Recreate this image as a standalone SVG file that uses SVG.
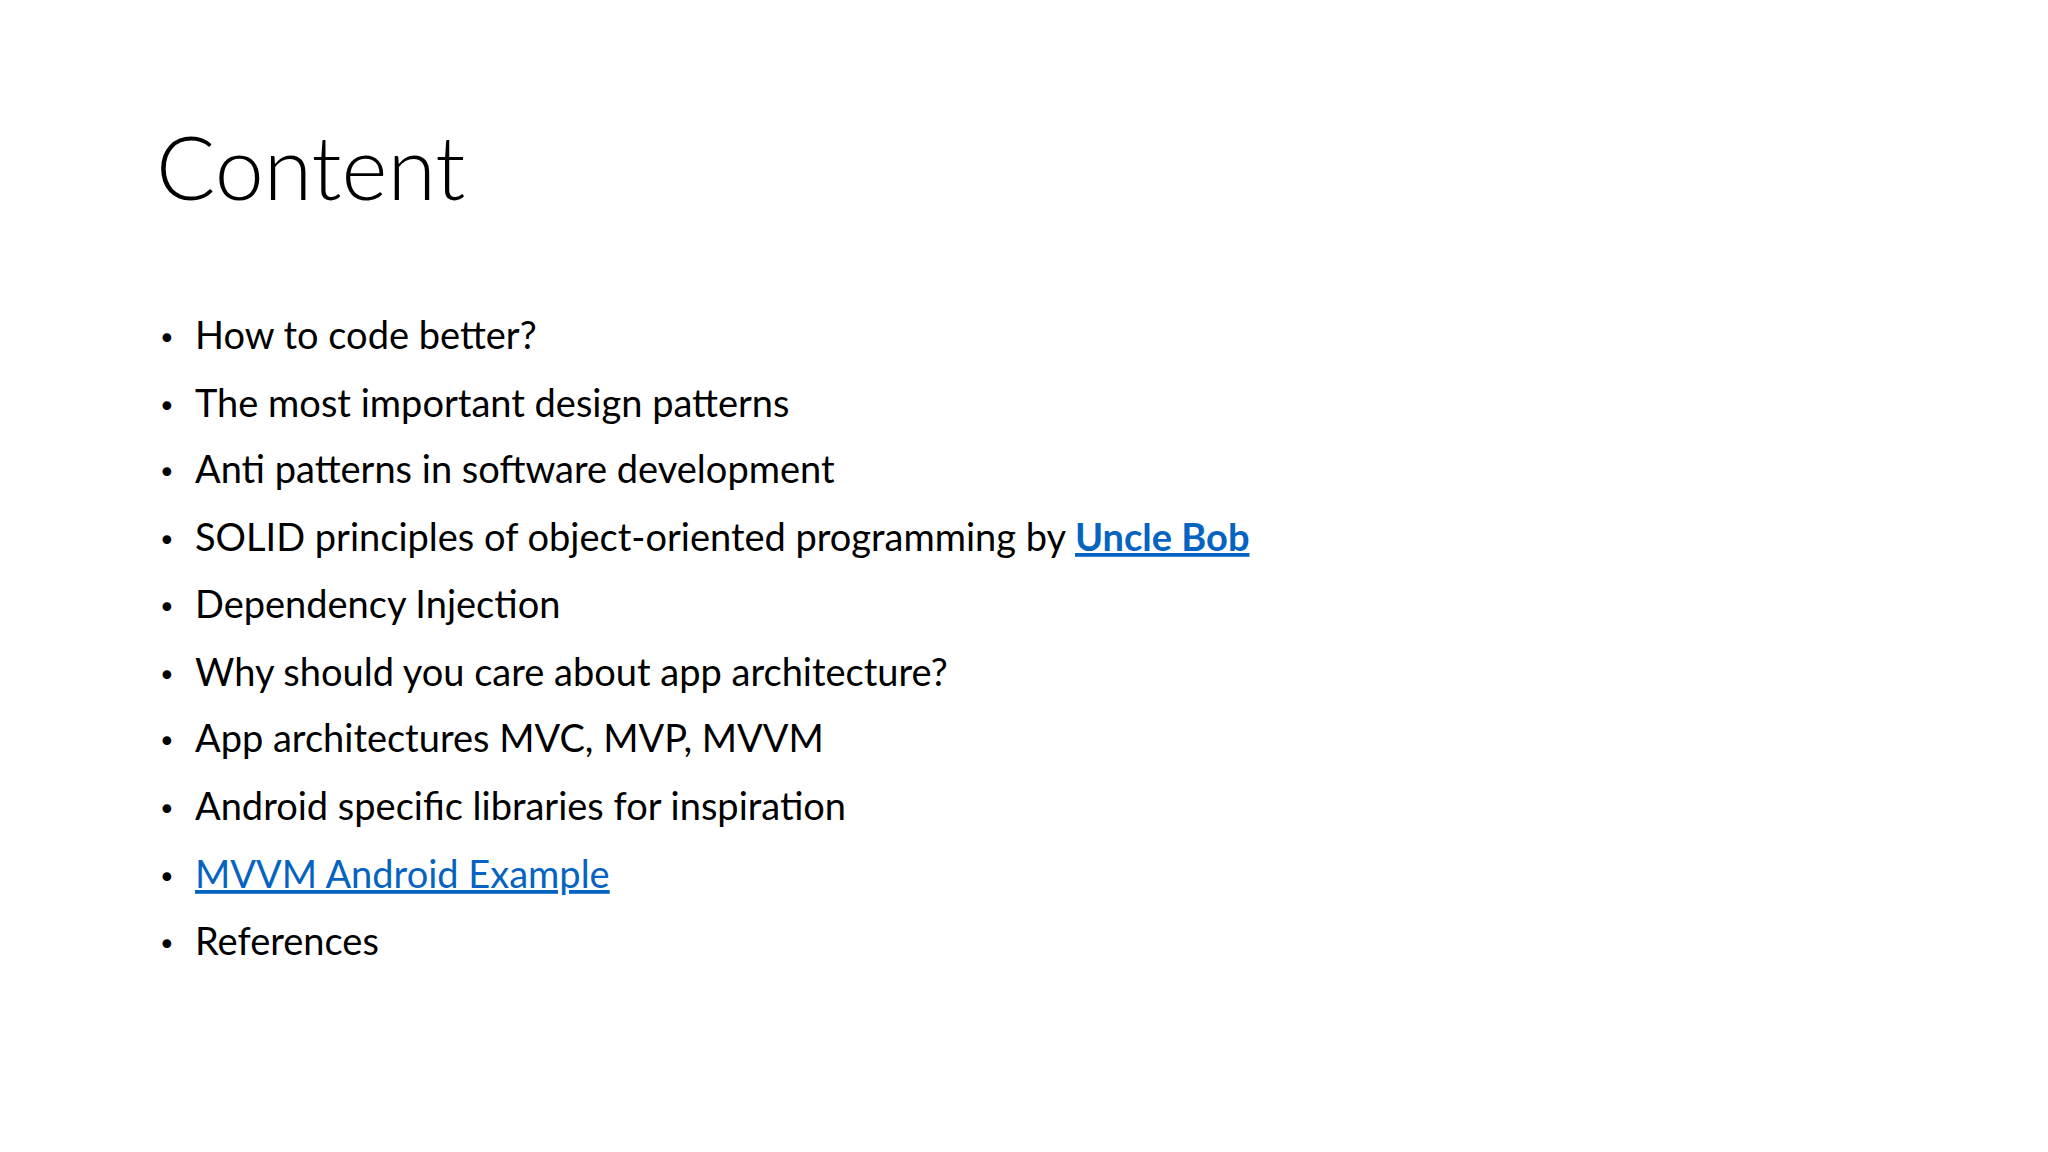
<svg xmlns="http://www.w3.org/2000/svg" width="2048" height="1152" viewBox="0 0 2048 1152">
<style>
.t{font-family:Lato,"Open Sans",sans-serif;font-size:38px;fill:#000}
.b{font-family:"DejaVu Sans",sans-serif;font-size:30px;fill:#000}
.l{fill:#0563C1;text-decoration:underline}
</style>
<rect width="2048" height="1152" fill="#fff"/>
<g id="title"><text x="156" y="200" font-family="Lato,'Open Sans',sans-serif" font-weight="300" font-size="88" fill="#000">Content</text></g>
<g id="list">
<g class="b"><text x="158" y="349">•</text><text x="158" y="417">•</text><text x="158" y="483">•</text><text x="158" y="551">•</text><text x="158" y="618">•</text><text x="158" y="686">•</text><text x="158" y="752">•</text><text x="158" y="820">•</text><text x="158" y="888">•</text><text x="158" y="955">•</text></g>
<text class="t" x="195" y="349">How to code better?</text>
<text class="t" x="195" y="417">The most important design patterns</text>
<text class="t" x="195" y="483">Anti patterns in software development</text>
<text class="t" x="195" y="551">SOLID principles of object-oriented programming by <tspan class="l" font-weight="bold">Uncle Bob</tspan></text>
<text class="t" x="195" y="618">Dependency Injection</text>
<text class="t" x="195" y="686">Why should you care about app architecture?</text>
<text class="t" x="195" y="752">App architectures MVC, MVP, MVVM</text>
<text class="t" x="195" y="820">Android specific libraries for inspiration</text>
<text class="t l" x="195" y="888">MVVM Android Example</text>
<text class="t" x="195" y="955">References</text>
</g>
</svg>
